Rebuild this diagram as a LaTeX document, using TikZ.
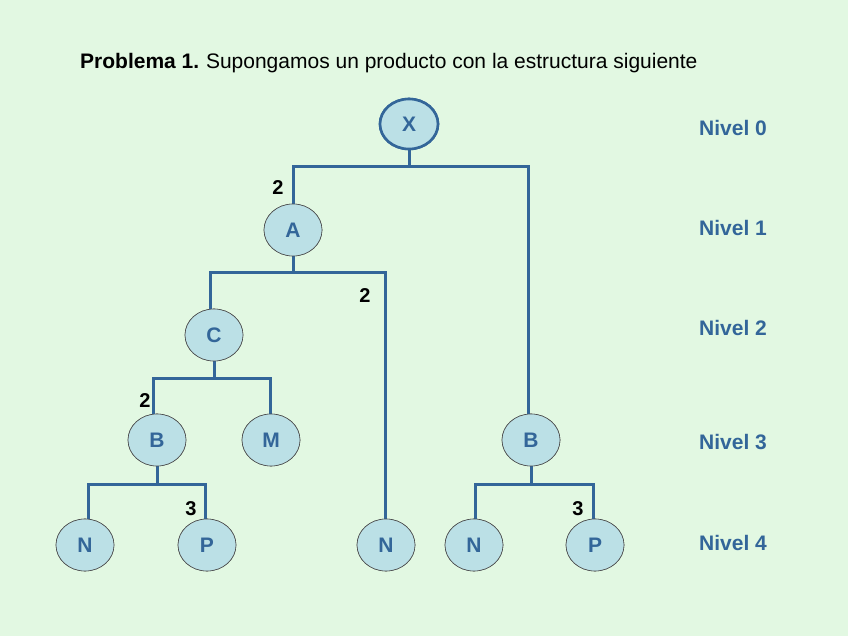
\documentclass[tikz,border=0pt]{standalone}
\usepackage{fontspec}
\setmainfont{Liberation Sans}
\usetikzlibrary{shapes.geometric}
\definecolor{fondo}{RGB}{226,248,226}
\definecolor{azul}{RGB}{51,102,153}
\definecolor{relleno}{RGB}{187,224,230}
\begin{document}
\begin{tikzpicture}[x=1pt, y=-1pt, line join=round,
		pieza/.style={ellipse, draw=black!70, line width=0.6pt, fill=relleno, minimum width=58pt, minimum height=52pt, inner sep=0pt, font=\fontsize{21}{21}\selectfont\bfseries, text=azul},
		raiz/.style={pieza, draw=azul, line width=2.6pt, minimum width=58pt, minimum height=50pt},
		enlace/.style={draw=azul, line width=3pt, line cap=rect},
		cant/.style={font=\fontsize{20}{20}\selectfont\bfseries},
		nivel/.style={font=\fontsize{21}{21}\selectfont\bfseries, text=azul}]
		\fill[fondo] (0,0) rectangle (848,636);
		\useasboundingbox (0,0) rectangle (848,636);
		\node[anchor=base west, inner sep=0pt, font=\fontsize{21}{21}\selectfont] (titulo) at (80,69) {\textbf{Problema 1.}\hspace{-1pt} Supongamos un producto con la estructura siguiente};
		% piezas
		\node[raiz] (X) at (409,124) {X};
		\node[pieza] (A) at (293,230) {A};
		\node[pieza] (C) at (214,335) {C};
		\node[pieza] (B1) at (157,440) {B};
		\node[pieza] (M) at (271,440) {M};
		\node[pieza] (B2) at (531,440) {B};
		\node[pieza] (N1) at (85,545) {N};
		\node[pieza] (P1) at (207,545) {P};
		\node[pieza] (N2) at (386,545) {N};
		\node[pieza] (N3) at (474,545) {N};
		\node[pieza] (P2) at (595,545) {P};
		% barras
		\coordinate (x1) at (293,167);
		\coordinate (x2) at (528,167);
		\coordinate (a1) at (210,272);
		\coordinate (a2) at (385,272);
		\coordinate (c1) at (153,378);
		\coordinate (c2) at (270,378);
		\coordinate (b1) at (88,484);
		\coordinate (b2) at (205,484);
		\coordinate (d1) at (475,484);
		\coordinate (d2) at (593,484);
		\draw[enlace] (X) -- (X|-x1);
		\draw[enlace] (x1) -- (x2);
		\draw[enlace] (x1) -- (x1|-A.north);
		\draw[enlace] (x2) -- (x2|-B2.north);
		\draw[enlace] (A) -- (A|-a1);
		\draw[enlace] (a1) -- (a2);
		\draw[enlace] (a1) -- (a1|-C.north);
		\draw[enlace] (a2) -- (a2|-N2.north);
		\draw[enlace] (C) -- (C|-c1);
		\draw[enlace] (c1) -- (c2);
		\draw[enlace] (c1) -- (c1|-B1.north);
		\draw[enlace] (c2) -- (c2|-M.north);
		\draw[enlace] (B1) -- (B1|-b1);
		\draw[enlace] (b1) -- (b2);
		\draw[enlace] (b1) -- (b1|-N1.north);
		\draw[enlace] (b2) -- (b2|-P1.north);
		\draw[enlace] (B2) -- (B2|-d1);
		\draw[enlace] (d1) -- (d2);
		\draw[enlace] (d1) -- (d1|-N3.north);
		\draw[enlace] (d2) -- (d2|-P2.north);
		% redibujar piezas encima
		\node[raiz] at (X) {X};
		\foreach \n/\t in {A/A, C/C, B1/B, M/M, B2/B, N1/N, P1/P, N2/N, N3/N, P2/P}
			\node[pieza] at (\n) {\t};
		% cantidades
		\node[cant] (q1) at (278,188) {2};
		\node[cant] (q2) at (365,296) {2};
		\node[cant] (q3) at (145,401) {2};
		\node[cant] (q4) at (191,509) {3};
		\node[cant] (q5) at (578,509) {3};
		% niveles
		\node[nivel] (n0) at (733,128) {Nivel 0};
		\node[nivel] (n1) at (733,228) {Nivel 1};
		\node[nivel] (n2) at (733,328) {Nivel 2};
		\node[nivel] (n3) at (733,442) {Nivel 3};
		\node[nivel] (n4) at (733,543) {Nivel 4};
	\end{tikzpicture}
\end{document}
